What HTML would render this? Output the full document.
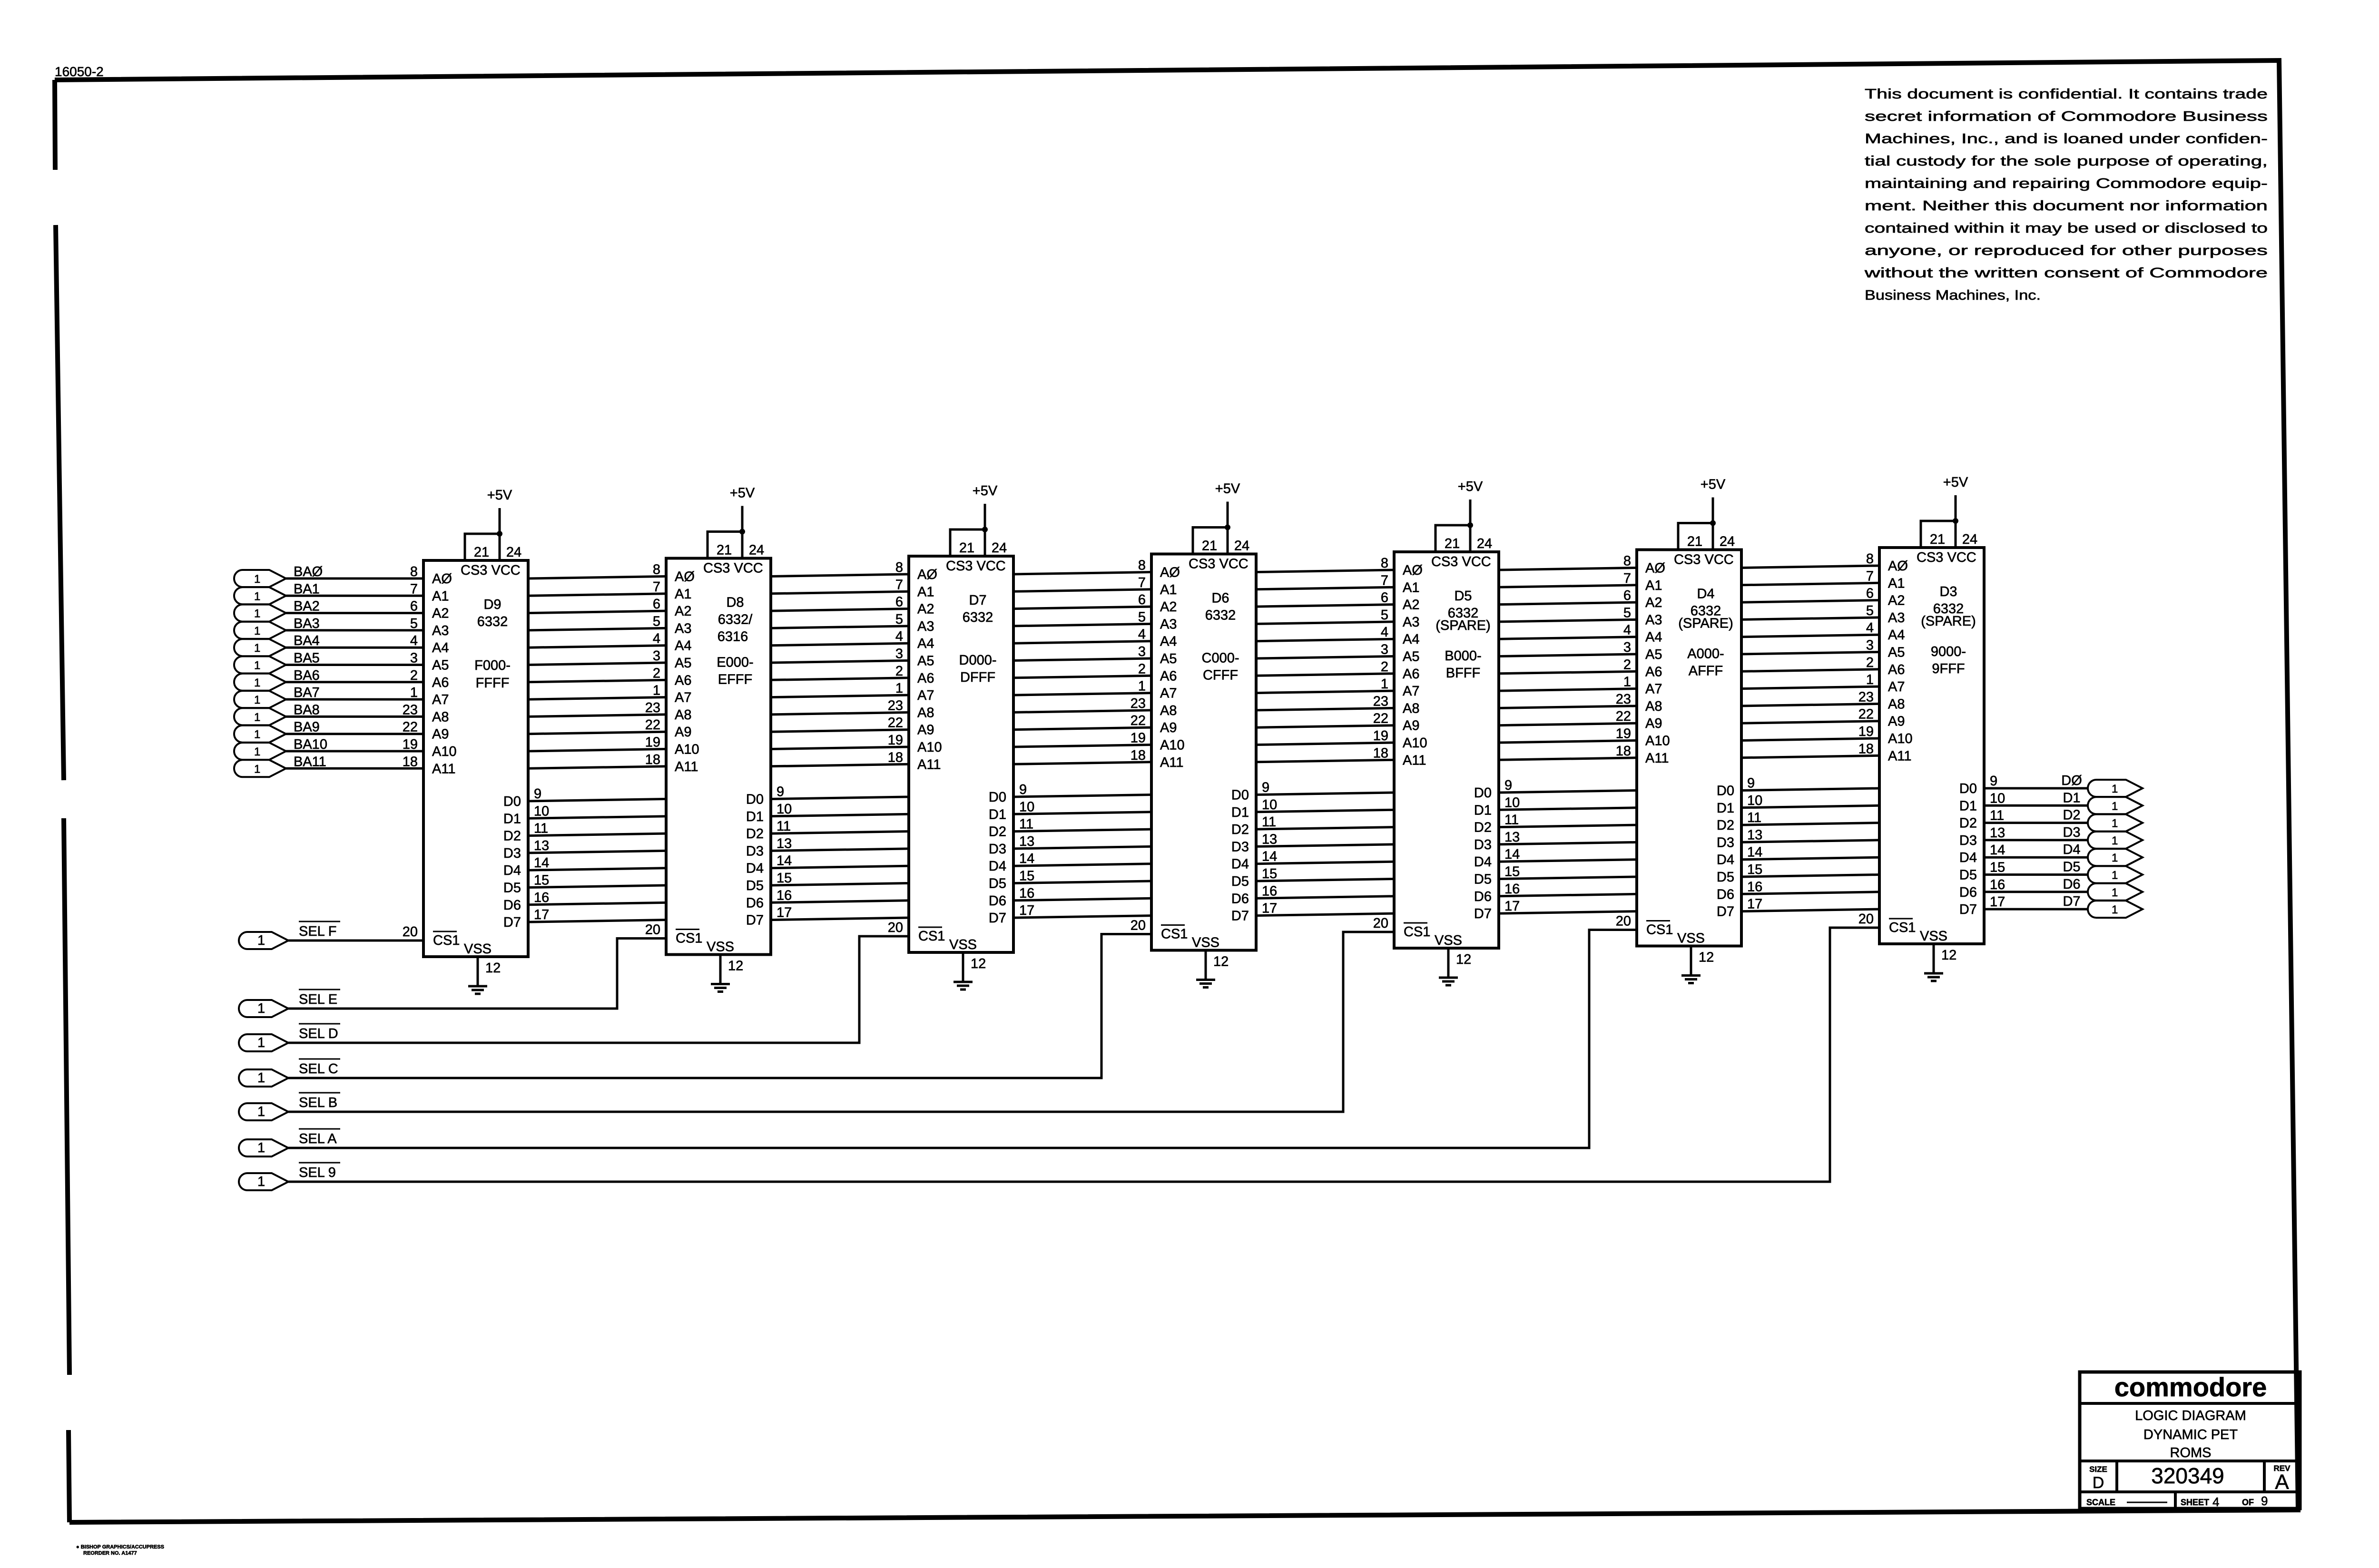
<!DOCTYPE html>
<html><head><meta charset="utf-8"><style>
html,body{margin:0;padding:0;background:#fff}
svg{display:block}
text{font-family:"Liberation Sans",sans-serif;font-size:29px;fill:#000;stroke:#000;stroke-width:0.7px}
.l{stroke:#000;stroke-width:5;fill:none}
.b{stroke:#000;stroke-width:6;fill:none}
.m{text-anchor:middle}
.e{text-anchor:end}
.c{stroke:#000;stroke-width:4;fill:#fff}
</style></head><body>
<svg width="5096" height="3296" viewBox="0 0 5096 3296" xmlns="http://www.w3.org/2000/svg">
<!-- border -->
<path d="M115 168 L4790 127 L4830 3174 L146 3200" style="stroke:#000;stroke-width:10;fill:none"/>
<path d="M115 168 L116 357 M117 473 L134 1640 M134 1720 L146 2890 M144 3006 L146 3200" style="stroke:#000;stroke-width:10;fill:none"/>
<text x="115" y="160" style="font-size:28px">16050-2</text>
<text x="160" y="3255" style="font-size:11px;font-weight:bold">● BISHOP GRAPHICS/ACCUPRESS</text>
<text x="175" y="3268" style="font-size:11px;font-weight:bold">REORDER NO. A1477</text>

<!-- confidential -->
<g style="font-size:46px">
<text x="3919" y="207" textLength="847" lengthAdjust="spacingAndGlyphs">This document is confidential. It contains trade</text>
<text x="3919" y="254" textLength="847" lengthAdjust="spacingAndGlyphs">secret information of Commodore Business</text>
<text x="3919" y="301" textLength="847" lengthAdjust="spacingAndGlyphs">Machines, Inc., and is loaned under confiden-</text>
<text x="3919" y="348" textLength="847" lengthAdjust="spacingAndGlyphs">tial custody for the sole purpose of operating,</text>
<text x="3919" y="395" textLength="847" lengthAdjust="spacingAndGlyphs">maintaining and repairing Commodore equip-</text>
<text x="3919" y="442" textLength="847" lengthAdjust="spacingAndGlyphs">ment. Neither this document nor information</text>
<text x="3919" y="489" textLength="847" lengthAdjust="spacingAndGlyphs">contained within it may be used or disclosed to</text>
<text x="3919" y="536" textLength="847" lengthAdjust="spacingAndGlyphs">anyone, or reproduced for other purposes</text>
<text x="3919" y="583" textLength="847" lengthAdjust="spacingAndGlyphs">without the written consent of Commodore</text>
<text x="3919" y="630" textLength="370" lengthAdjust="spacingAndGlyphs">Business Machines, Inc.</text>
</g>

<!-- title block -->
<rect x="4371" y="2884" width="463" height="287" class="b" style="stroke-width:7"/>
<path d="M4371 2950H4834M4371 3071H4834M4371 3136H4834M4449 3071V3136M4759 3071V3136M4572 3136V3171" class="b"/>
<text x="4604" y="2935" class="m" style="font-size:56px;font-weight:bold">commodore</text>
<g style="font-size:34px">
<text x="4604" y="2985" class="m">LOGIC DIAGRAM</text>
<text x="4604" y="3025" class="m">DYNAMIC PET</text>
<text x="4604" y="3063" class="m">ROMS</text>
</g>
<text x="4410" y="3094" class="m" style="font-size:17px;font-weight:bold">SIZE</text>
<text x="4410" y="3128" class="m" style="font-size:34px">D</text>
<text x="4598" y="3118" class="m" style="font-size:46px">320349</text>
<text x="4796" y="3092" class="m" style="font-size:17px;font-weight:bold">REV</text>
<text x="4796" y="3130" class="m" style="font-size:44px">A</text>
<text x="4385" y="3164" style="font-size:18px;font-weight:bold">SCALE</text>
<path d="M4470 3158H4555" class="l" style="stroke-width:3"/>
<text x="4583" y="3164" style="font-size:18px;font-weight:bold">SHEET</text>
<text x="4650" y="3166" style="font-size:26px">4</text>
<text x="4712" y="3164" style="font-size:18px;font-weight:bold">OF</text>
<text x="4752" y="3164" style="font-size:26px">9</text>

<!-- SEL lines -->
<path class="l" d="M606 1977H890 M606 2120H1297V1972.5H1400 M606 2192H1806V1968H1910 M606 2266H2315V1963.5H2420 M606 2337H2823V1959H2930 M606 2413H3340V1954.5H3440 M606 2484H3846V1950H3950"/>
<g>
<path class="c" d="M520 1959H571L606 1977L571 1995H520A18 18 0 0 1 520 1959Z"/>
<path class="c" d="M520 2102H571L606 2120L571 2138H520A18 18 0 0 1 520 2102Z"/>
<path class="c" d="M520 2174H571L606 2192L571 2210H520A18 18 0 0 1 520 2174Z"/>
<path class="c" d="M520 2248H571L606 2266L571 2284H520A18 18 0 0 1 520 2248Z"/>
<path class="c" d="M520 2319H571L606 2337L571 2355H520A18 18 0 0 1 520 2319Z"/>
<path class="c" d="M520 2395H571L606 2413L571 2431H520A18 18 0 0 1 520 2395Z"/>
<path class="c" d="M520 2466H571L606 2484L571 2502H520A18 18 0 0 1 520 2466Z"/>
<g style="font-size:24px"><text x="541" y="1986">1</text><text x="541" y="2129">1</text><text x="541" y="2201">1</text><text x="541" y="2275">1</text><text x="541" y="2346">1</text><text x="541" y="2422">1</text><text x="541" y="2493">1</text></g>
<text x="628" y="1967">SEL  F</text><text x="628" y="2110">SEL  E</text><text x="628" y="2182">SEL  D</text><text x="628" y="2256">SEL  C</text><text x="628" y="2327">SEL  B</text><text x="628" y="2403">SEL  A</text><text x="628" y="2474">SEL  9</text>
<path class="l" style="stroke-width:3" d="M628 1937H715M628 2080H715M628 2152H715M628 2226H715M628 2297H715M628 2373H715M628 2444H715"/>
</g>

<!-- ===== CHIP D9 ===== -->
<g transform="translate(890,1178)">
<path class="l" d="M-289 38H0M-289 74.3H0M-289 110.6H0M-289 146.9H0M-289 183.2H0M-289 219.5H0M-289 255.8H0M-289 292.1H0M-289 328.4H0M-289 364.7H0M-289 401H0M-289 437.3H0"/>
<g>
<path class="c" d="M-380 20H-324L-289 38L-324 56H-380A18 18 0 0 1 -380 20Z"/>
<path class="c" d="M-380 56.3H-324L-289 74.3L-324 92.3H-380A18 18 0 0 1 -380 56.3Z"/>
<path class="c" d="M-380 92.6H-324L-289 110.6L-324 128.6H-380A18 18 0 0 1 -380 92.6Z"/>
<path class="c" d="M-380 128.9H-324L-289 146.9L-324 164.9H-380A18 18 0 0 1 -380 128.9Z"/>
<path class="c" d="M-380 165.2H-324L-289 183.2L-324 201.2H-380A18 18 0 0 1 -380 165.2Z"/>
<path class="c" d="M-380 201.5H-324L-289 219.5L-324 237.5H-380A18 18 0 0 1 -380 201.5Z"/>
<path class="c" d="M-380 237.8H-324L-289 255.8L-324 273.8H-380A18 18 0 0 1 -380 237.8Z"/>
<path class="c" d="M-380 274.1H-324L-289 292.1L-324 310.1H-380A18 18 0 0 1 -380 274.1Z"/>
<path class="c" d="M-380 310.4H-324L-289 328.4L-324 346.4H-380A18 18 0 0 1 -380 310.4Z"/>
<path class="c" d="M-380 346.7H-324L-289 364.7L-324 382.7H-380A18 18 0 0 1 -380 346.7Z"/>
<path class="c" d="M-380 383H-324L-289 401L-324 419H-380A18 18 0 0 1 -380 383Z"/>
<path class="c" d="M-380 419.3H-324L-289 437.3L-324 455.3H-380A18 18 0 0 1 -380 419.3Z"/>
</g>
<text x="-356" y="47" style="font-size:24px"><tspan x="-356">1</tspan><tspan x="-356" dy="36.3">1</tspan><tspan x="-356" dy="36.3">1</tspan><tspan x="-356" dy="36.3">1</tspan><tspan x="-356" dy="36.3">1</tspan><tspan x="-356" dy="36.3">1</tspan><tspan x="-356" dy="36.3">1</tspan><tspan x="-356" dy="36.3">1</tspan><tspan x="-356" dy="36.3">1</tspan><tspan x="-356" dy="36.3">1</tspan><tspan x="-356" dy="36.3">1</tspan><tspan x="-356" dy="36.3">1</tspan></text>
<text x="-273" y="33"><tspan x="-273">BAØ</tspan><tspan x="-273" dy="36.3">BA1</tspan><tspan x="-273" dy="36.3">BA2</tspan><tspan x="-273" dy="36.3">BA3</tspan><tspan x="-273" dy="36.3">BA4</tspan><tspan x="-273" dy="36.3">BA5</tspan><tspan x="-273" dy="36.3">BA6</tspan><tspan x="-273" dy="36.3">BA7</tspan><tspan x="-273" dy="36.3">BA8</tspan><tspan x="-273" dy="36.3">BA9</tspan><tspan x="-273" dy="36.3">BA10</tspan><tspan x="-273" dy="36.3">BA11</tspan></text>
<rect x="0" y="0" width="220" height="833" class="b"/>
<path class="l" d="M87 0V-56H160M160 -110V0M114 833V895M94 895H134M101 903H127M108 911H120"/>
<circle cx="160" cy="-56" r="6"/>
<text x="160" y="-128" class="m">+5V</text>
<text x="122" y="-8" class="m">21</text><text x="190" y="-8" class="m">24</text>
<text x="78" y="30">CS3  VCC</text>
<text x="18" y="48"><tspan x="18">AØ</tspan><tspan x="18" dy="36.3">A1</tspan><tspan x="18" dy="36.3">A2</tspan><tspan x="18" dy="36.3">A3</tspan><tspan x="18" dy="36.3">A4</tspan><tspan x="18" dy="36.3">A5</tspan><tspan x="18" dy="36.3">A6</tspan><tspan x="18" dy="36.3">A7</tspan><tspan x="18" dy="36.3">A8</tspan><tspan x="18" dy="36.3">A9</tspan><tspan x="18" dy="36.3">A10</tspan><tspan x="18" dy="36.3">A11</tspan></text>
<text x="205" y="516" class="e"><tspan x="205">D0</tspan><tspan x="205" dy="36.3">D1</tspan><tspan x="205" dy="36.3">D2</tspan><tspan x="205" dy="36.3">D3</tspan><tspan x="205" dy="36.3">D4</tspan><tspan x="205" dy="36.3">D5</tspan><tspan x="205" dy="36.3">D6</tspan><tspan x="205" dy="36.3">D7</tspan></text>
<text x="-12" y="33" class="e"><tspan x="-12">8</tspan><tspan x="-12" dy="36.3">7</tspan><tspan x="-12" dy="36.3">6</tspan><tspan x="-12" dy="36.3">5</tspan><tspan x="-12" dy="36.3">4</tspan><tspan x="-12" dy="36.3">3</tspan><tspan x="-12" dy="36.3">2</tspan><tspan x="-12" dy="36.3">1</tspan><tspan x="-12" dy="36.3">23</tspan><tspan x="-12" dy="36.3">22</tspan><tspan x="-12" dy="36.3">19</tspan><tspan x="-12" dy="36.3">18</tspan></text>
<text x="232" y="500"><tspan x="232">9</tspan><tspan x="232" dy="36.3">10</tspan><tspan x="232" dy="36.3">11</tspan><tspan x="232" dy="36.3">13</tspan><tspan x="232" dy="36.3">14</tspan><tspan x="232" dy="36.3">15</tspan><tspan x="232" dy="36.3">16</tspan><tspan x="232" dy="36.3">17</tspan></text>
<text x="-12" y="790" class="e">20</text>
<text x="20" y="808">CS1</text><path class="l" style="stroke-width:3" d="M20 780H70"/>
<text x="85" y="826">VSS</text>
<text x="130" y="866">12</text>
<text x="145" y="102" class="m">D9</text><text x="145" y="138" class="m">6332</text>
<text x="145" y="230" class="m">F000-</text><text x="145" y="267" class="m">FFFF</text>
<path class="l" d="M220 38L510 33.5M220 74.3L510 69.8M220 110.6L510 106.1M220 146.9L510 142.4M220 183.2L510 178.7M220 219.5L510 215M220 255.8L510 251.3M220 292.1L510 287.6M220 328.4L510 323.9M220 364.7L510 360.2M220 401L510 396.5M220 437.3L510 432.8M220 506L510 501.5M220 542.3L510 537.8M220 578.6L510 574.1M220 614.9L510 610.4M220 651.2L510 646.7M220 687.5L510 683M220 723.8L510 719.3M220 760.1L510 755.6"/>
</g>

<!-- ===== CHIP D8 ===== -->
<g transform="translate(1400,1173.5)">
<rect x="0" y="0" width="220" height="833" class="b"/>
<path class="l" d="M87 0V-56H160M160 -110V0M114 833V895M94 895H134M101 903H127M108 911H120"/>
<circle cx="160" cy="-56" r="6"/>
<text x="160" y="-128" class="m">+5V</text>
<text x="122" y="-8" class="m">21</text><text x="190" y="-8" class="m">24</text>
<text x="78" y="30">CS3  VCC</text>
<text x="18" y="48"><tspan x="18">AØ</tspan><tspan x="18" dy="36.3">A1</tspan><tspan x="18" dy="36.3">A2</tspan><tspan x="18" dy="36.3">A3</tspan><tspan x="18" dy="36.3">A4</tspan><tspan x="18" dy="36.3">A5</tspan><tspan x="18" dy="36.3">A6</tspan><tspan x="18" dy="36.3">A7</tspan><tspan x="18" dy="36.3">A8</tspan><tspan x="18" dy="36.3">A9</tspan><tspan x="18" dy="36.3">A10</tspan><tspan x="18" dy="36.3">A11</tspan></text>
<text x="205" y="516" class="e"><tspan x="205">D0</tspan><tspan x="205" dy="36.3">D1</tspan><tspan x="205" dy="36.3">D2</tspan><tspan x="205" dy="36.3">D3</tspan><tspan x="205" dy="36.3">D4</tspan><tspan x="205" dy="36.3">D5</tspan><tspan x="205" dy="36.3">D6</tspan><tspan x="205" dy="36.3">D7</tspan></text>
<text x="-12" y="33" class="e"><tspan x="-12">8</tspan><tspan x="-12" dy="36.3">7</tspan><tspan x="-12" dy="36.3">6</tspan><tspan x="-12" dy="36.3">5</tspan><tspan x="-12" dy="36.3">4</tspan><tspan x="-12" dy="36.3">3</tspan><tspan x="-12" dy="36.3">2</tspan><tspan x="-12" dy="36.3">1</tspan><tspan x="-12" dy="36.3">23</tspan><tspan x="-12" dy="36.3">22</tspan><tspan x="-12" dy="36.3">19</tspan><tspan x="-12" dy="36.3">18</tspan></text>
<text x="232" y="500"><tspan x="232">9</tspan><tspan x="232" dy="36.3">10</tspan><tspan x="232" dy="36.3">11</tspan><tspan x="232" dy="36.3">13</tspan><tspan x="232" dy="36.3">14</tspan><tspan x="232" dy="36.3">15</tspan><tspan x="232" dy="36.3">16</tspan><tspan x="232" dy="36.3">17</tspan></text>
<text x="-12" y="790" class="e">20</text>
<text x="20" y="808">CS1</text><path class="l" style="stroke-width:3" d="M20 780H70"/>
<text x="85" y="826">VSS</text>
<text x="130" y="866">12</text>
<text x="145" y="102" class="m">D8</text><text x="145" y="138" class="m">6332/</text><text x="140" y="174" class="m">6316</text>
<text x="145" y="228" class="m">E000-</text><text x="145" y="264" class="m">EFFF</text>
<path class="l" d="M220 38L510 33.5M220 74.3L510 69.8M220 110.6L510 106.1M220 146.9L510 142.4M220 183.2L510 178.7M220 219.5L510 215M220 255.8L510 251.3M220 292.1L510 287.6M220 328.4L510 323.9M220 364.7L510 360.2M220 401L510 396.5M220 437.3L510 432.8M220 506L510 501.5M220 542.3L510 537.8M220 578.6L510 574.1M220 614.9L510 610.4M220 651.2L510 646.7M220 687.5L510 683M220 723.8L510 719.3M220 760.1L510 755.6"/>
</g>

<!-- ===== CHIP D7 ===== -->
<g transform="translate(1910,1169)">
<rect x="0" y="0" width="220" height="833" class="b"/>
<path class="l" d="M87 0V-56H160M160 -110V0M114 833V895M94 895H134M101 903H127M108 911H120"/>
<circle cx="160" cy="-56" r="6"/>
<text x="160" y="-128" class="m">+5V</text>
<text x="122" y="-8" class="m">21</text><text x="190" y="-8" class="m">24</text>
<text x="78" y="30">CS3  VCC</text>
<text x="18" y="48"><tspan x="18">AØ</tspan><tspan x="18" dy="36.3">A1</tspan><tspan x="18" dy="36.3">A2</tspan><tspan x="18" dy="36.3">A3</tspan><tspan x="18" dy="36.3">A4</tspan><tspan x="18" dy="36.3">A5</tspan><tspan x="18" dy="36.3">A6</tspan><tspan x="18" dy="36.3">A7</tspan><tspan x="18" dy="36.3">A8</tspan><tspan x="18" dy="36.3">A9</tspan><tspan x="18" dy="36.3">A10</tspan><tspan x="18" dy="36.3">A11</tspan></text>
<text x="205" y="516" class="e"><tspan x="205">D0</tspan><tspan x="205" dy="36.3">D1</tspan><tspan x="205" dy="36.3">D2</tspan><tspan x="205" dy="36.3">D3</tspan><tspan x="205" dy="36.3">D4</tspan><tspan x="205" dy="36.3">D5</tspan><tspan x="205" dy="36.3">D6</tspan><tspan x="205" dy="36.3">D7</tspan></text>
<text x="-12" y="33" class="e"><tspan x="-12">8</tspan><tspan x="-12" dy="36.3">7</tspan><tspan x="-12" dy="36.3">6</tspan><tspan x="-12" dy="36.3">5</tspan><tspan x="-12" dy="36.3">4</tspan><tspan x="-12" dy="36.3">3</tspan><tspan x="-12" dy="36.3">2</tspan><tspan x="-12" dy="36.3">1</tspan><tspan x="-12" dy="36.3">23</tspan><tspan x="-12" dy="36.3">22</tspan><tspan x="-12" dy="36.3">19</tspan><tspan x="-12" dy="36.3">18</tspan></text>
<text x="232" y="500"><tspan x="232">9</tspan><tspan x="232" dy="36.3">10</tspan><tspan x="232" dy="36.3">11</tspan><tspan x="232" dy="36.3">13</tspan><tspan x="232" dy="36.3">14</tspan><tspan x="232" dy="36.3">15</tspan><tspan x="232" dy="36.3">16</tspan><tspan x="232" dy="36.3">17</tspan></text>
<text x="-12" y="790" class="e">20</text>
<text x="20" y="808">CS1</text><path class="l" style="stroke-width:3" d="M20 780H70"/>
<text x="85" y="826">VSS</text>
<text x="130" y="866">12</text>
<text x="145" y="102" class="m">D7</text><text x="145" y="138" class="m">6332</text>
<text x="145" y="228" class="m">D000-</text><text x="145" y="264" class="m">DFFF</text>
<path class="l" d="M220 38L510 33.5M220 74.3L510 69.8M220 110.6L510 106.1M220 146.9L510 142.4M220 183.2L510 178.7M220 219.5L510 215M220 255.8L510 251.3M220 292.1L510 287.6M220 328.4L510 323.9M220 364.7L510 360.2M220 401L510 396.5M220 437.3L510 432.8M220 506L510 501.5M220 542.3L510 537.8M220 578.6L510 574.1M220 614.9L510 610.4M220 651.2L510 646.7M220 687.5L510 683M220 723.8L510 719.3M220 760.1L510 755.6"/>
</g>

<!-- ===== CHIP D6 ===== -->
<g transform="translate(2420,1164.5)">
<rect x="0" y="0" width="220" height="833" class="b"/>
<path class="l" d="M87 0V-56H160M160 -110V0M114 833V895M94 895H134M101 903H127M108 911H120"/>
<circle cx="160" cy="-56" r="6"/>
<text x="160" y="-128" class="m">+5V</text>
<text x="122" y="-8" class="m">21</text><text x="190" y="-8" class="m">24</text>
<text x="78" y="30">CS3  VCC</text>
<text x="18" y="48"><tspan x="18">AØ</tspan><tspan x="18" dy="36.3">A1</tspan><tspan x="18" dy="36.3">A2</tspan><tspan x="18" dy="36.3">A3</tspan><tspan x="18" dy="36.3">A4</tspan><tspan x="18" dy="36.3">A5</tspan><tspan x="18" dy="36.3">A6</tspan><tspan x="18" dy="36.3">A7</tspan><tspan x="18" dy="36.3">A8</tspan><tspan x="18" dy="36.3">A9</tspan><tspan x="18" dy="36.3">A10</tspan><tspan x="18" dy="36.3">A11</tspan></text>
<text x="205" y="516" class="e"><tspan x="205">D0</tspan><tspan x="205" dy="36.3">D1</tspan><tspan x="205" dy="36.3">D2</tspan><tspan x="205" dy="36.3">D3</tspan><tspan x="205" dy="36.3">D4</tspan><tspan x="205" dy="36.3">D5</tspan><tspan x="205" dy="36.3">D6</tspan><tspan x="205" dy="36.3">D7</tspan></text>
<text x="-12" y="33" class="e"><tspan x="-12">8</tspan><tspan x="-12" dy="36.3">7</tspan><tspan x="-12" dy="36.3">6</tspan><tspan x="-12" dy="36.3">5</tspan><tspan x="-12" dy="36.3">4</tspan><tspan x="-12" dy="36.3">3</tspan><tspan x="-12" dy="36.3">2</tspan><tspan x="-12" dy="36.3">1</tspan><tspan x="-12" dy="36.3">23</tspan><tspan x="-12" dy="36.3">22</tspan><tspan x="-12" dy="36.3">19</tspan><tspan x="-12" dy="36.3">18</tspan></text>
<text x="232" y="500"><tspan x="232">9</tspan><tspan x="232" dy="36.3">10</tspan><tspan x="232" dy="36.3">11</tspan><tspan x="232" dy="36.3">13</tspan><tspan x="232" dy="36.3">14</tspan><tspan x="232" dy="36.3">15</tspan><tspan x="232" dy="36.3">16</tspan><tspan x="232" dy="36.3">17</tspan></text>
<text x="-12" y="790" class="e">20</text>
<text x="20" y="808">CS1</text><path class="l" style="stroke-width:3" d="M20 780H70"/>
<text x="85" y="826">VSS</text>
<text x="130" y="866">12</text>
<text x="145" y="102" class="m">D6</text><text x="145" y="138" class="m">6332</text>
<text x="145" y="228" class="m">C000-</text><text x="145" y="264" class="m">CFFF</text>
<path class="l" d="M220 38L510 33.5M220 74.3L510 69.8M220 110.6L510 106.1M220 146.9L510 142.4M220 183.2L510 178.7M220 219.5L510 215M220 255.8L510 251.3M220 292.1L510 287.6M220 328.4L510 323.9M220 364.7L510 360.2M220 401L510 396.5M220 437.3L510 432.8M220 506L510 501.5M220 542.3L510 537.8M220 578.6L510 574.1M220 614.9L510 610.4M220 651.2L510 646.7M220 687.5L510 683M220 723.8L510 719.3M220 760.1L510 755.6"/>
</g>

<!-- ===== CHIP D5 ===== -->
<g transform="translate(2930,1160)">
<rect x="0" y="0" width="220" height="833" class="b"/>
<path class="l" d="M87 0V-56H160M160 -110V0M114 833V895M94 895H134M101 903H127M108 911H120"/>
<circle cx="160" cy="-56" r="6"/>
<text x="160" y="-128" class="m">+5V</text>
<text x="122" y="-8" class="m">21</text><text x="190" y="-8" class="m">24</text>
<text x="78" y="30">CS3  VCC</text>
<text x="18" y="48"><tspan x="18">AØ</tspan><tspan x="18" dy="36.3">A1</tspan><tspan x="18" dy="36.3">A2</tspan><tspan x="18" dy="36.3">A3</tspan><tspan x="18" dy="36.3">A4</tspan><tspan x="18" dy="36.3">A5</tspan><tspan x="18" dy="36.3">A6</tspan><tspan x="18" dy="36.3">A7</tspan><tspan x="18" dy="36.3">A8</tspan><tspan x="18" dy="36.3">A9</tspan><tspan x="18" dy="36.3">A10</tspan><tspan x="18" dy="36.3">A11</tspan></text>
<text x="205" y="516" class="e"><tspan x="205">D0</tspan><tspan x="205" dy="36.3">D1</tspan><tspan x="205" dy="36.3">D2</tspan><tspan x="205" dy="36.3">D3</tspan><tspan x="205" dy="36.3">D4</tspan><tspan x="205" dy="36.3">D5</tspan><tspan x="205" dy="36.3">D6</tspan><tspan x="205" dy="36.3">D7</tspan></text>
<text x="-12" y="33" class="e"><tspan x="-12">8</tspan><tspan x="-12" dy="36.3">7</tspan><tspan x="-12" dy="36.3">6</tspan><tspan x="-12" dy="36.3">5</tspan><tspan x="-12" dy="36.3">4</tspan><tspan x="-12" dy="36.3">3</tspan><tspan x="-12" dy="36.3">2</tspan><tspan x="-12" dy="36.3">1</tspan><tspan x="-12" dy="36.3">23</tspan><tspan x="-12" dy="36.3">22</tspan><tspan x="-12" dy="36.3">19</tspan><tspan x="-12" dy="36.3">18</tspan></text>
<text x="232" y="500"><tspan x="232">9</tspan><tspan x="232" dy="36.3">10</tspan><tspan x="232" dy="36.3">11</tspan><tspan x="232" dy="36.3">13</tspan><tspan x="232" dy="36.3">14</tspan><tspan x="232" dy="36.3">15</tspan><tspan x="232" dy="36.3">16</tspan><tspan x="232" dy="36.3">17</tspan></text>
<text x="-12" y="790" class="e">20</text>
<text x="20" y="808">CS1</text><path class="l" style="stroke-width:3" d="M20 780H70"/>
<text x="85" y="826">VSS</text>
<text x="130" y="866">12</text>
<text x="145" y="102" class="m">D5</text><text x="145" y="138" class="m">6332</text><text x="145" y="164" class="m">(SPARE)</text>
<text x="145" y="228" class="m">B000-</text><text x="145" y="264" class="m">BFFF</text>
<path class="l" d="M220 38L510 33.5M220 74.3L510 69.8M220 110.6L510 106.1M220 146.9L510 142.4M220 183.2L510 178.7M220 219.5L510 215M220 255.8L510 251.3M220 292.1L510 287.6M220 328.4L510 323.9M220 364.7L510 360.2M220 401L510 396.5M220 437.3L510 432.8M220 506L510 501.5M220 542.3L510 537.8M220 578.6L510 574.1M220 614.9L510 610.4M220 651.2L510 646.7M220 687.5L510 683M220 723.8L510 719.3M220 760.1L510 755.6"/>
</g>

<!-- ===== CHIP D4 ===== -->
<g transform="translate(3440,1155.5)">
<rect x="0" y="0" width="220" height="833" class="b"/>
<path class="l" d="M87 0V-56H160M160 -110V0M114 833V895M94 895H134M101 903H127M108 911H120"/>
<circle cx="160" cy="-56" r="6"/>
<text x="160" y="-128" class="m">+5V</text>
<text x="122" y="-8" class="m">21</text><text x="190" y="-8" class="m">24</text>
<text x="78" y="30">CS3  VCC</text>
<text x="18" y="48"><tspan x="18">AØ</tspan><tspan x="18" dy="36.3">A1</tspan><tspan x="18" dy="36.3">A2</tspan><tspan x="18" dy="36.3">A3</tspan><tspan x="18" dy="36.3">A4</tspan><tspan x="18" dy="36.3">A5</tspan><tspan x="18" dy="36.3">A6</tspan><tspan x="18" dy="36.3">A7</tspan><tspan x="18" dy="36.3">A8</tspan><tspan x="18" dy="36.3">A9</tspan><tspan x="18" dy="36.3">A10</tspan><tspan x="18" dy="36.3">A11</tspan></text>
<text x="205" y="516" class="e"><tspan x="205">D0</tspan><tspan x="205" dy="36.3">D1</tspan><tspan x="205" dy="36.3">D2</tspan><tspan x="205" dy="36.3">D3</tspan><tspan x="205" dy="36.3">D4</tspan><tspan x="205" dy="36.3">D5</tspan><tspan x="205" dy="36.3">D6</tspan><tspan x="205" dy="36.3">D7</tspan></text>
<text x="-12" y="33" class="e"><tspan x="-12">8</tspan><tspan x="-12" dy="36.3">7</tspan><tspan x="-12" dy="36.3">6</tspan><tspan x="-12" dy="36.3">5</tspan><tspan x="-12" dy="36.3">4</tspan><tspan x="-12" dy="36.3">3</tspan><tspan x="-12" dy="36.3">2</tspan><tspan x="-12" dy="36.3">1</tspan><tspan x="-12" dy="36.3">23</tspan><tspan x="-12" dy="36.3">22</tspan><tspan x="-12" dy="36.3">19</tspan><tspan x="-12" dy="36.3">18</tspan></text>
<text x="232" y="500"><tspan x="232">9</tspan><tspan x="232" dy="36.3">10</tspan><tspan x="232" dy="36.3">11</tspan><tspan x="232" dy="36.3">13</tspan><tspan x="232" dy="36.3">14</tspan><tspan x="232" dy="36.3">15</tspan><tspan x="232" dy="36.3">16</tspan><tspan x="232" dy="36.3">17</tspan></text>
<text x="-12" y="790" class="e">20</text>
<text x="20" y="808">CS1</text><path class="l" style="stroke-width:3" d="M20 780H70"/>
<text x="85" y="826">VSS</text>
<text x="130" y="866">12</text>
<text x="145" y="102" class="m">D4</text><text x="145" y="138" class="m">6332</text><text x="145" y="164" class="m">(SPARE)</text>
<text x="145" y="228" class="m">A000-</text><text x="145" y="264" class="m">AFFF</text>
<path class="l" d="M220 38L510 33.5M220 74.3L510 69.8M220 110.6L510 106.1M220 146.9L510 142.4M220 183.2L510 178.7M220 219.5L510 215M220 255.8L510 251.3M220 292.1L510 287.6M220 328.4L510 323.9M220 364.7L510 360.2M220 401L510 396.5M220 437.3L510 432.8M220 506L510 501.5M220 542.3L510 537.8M220 578.6L510 574.1M220 614.9L510 610.4M220 651.2L510 646.7M220 687.5L510 683M220 723.8L510 719.3M220 760.1L510 755.6"/>
</g>

<!-- ===== CHIP D3 ===== -->
<g transform="translate(3950,1151)">
<rect x="0" y="0" width="220" height="833" class="b"/>
<path class="l" d="M87 0V-56H160M160 -110V0M114 833V895M94 895H134M101 903H127M108 911H120"/>
<circle cx="160" cy="-56" r="6"/>
<text x="160" y="-128" class="m">+5V</text>
<text x="122" y="-8" class="m">21</text><text x="190" y="-8" class="m">24</text>
<text x="78" y="30">CS3  VCC</text>
<text x="18" y="48"><tspan x="18">AØ</tspan><tspan x="18" dy="36.3">A1</tspan><tspan x="18" dy="36.3">A2</tspan><tspan x="18" dy="36.3">A3</tspan><tspan x="18" dy="36.3">A4</tspan><tspan x="18" dy="36.3">A5</tspan><tspan x="18" dy="36.3">A6</tspan><tspan x="18" dy="36.3">A7</tspan><tspan x="18" dy="36.3">A8</tspan><tspan x="18" dy="36.3">A9</tspan><tspan x="18" dy="36.3">A10</tspan><tspan x="18" dy="36.3">A11</tspan></text>
<text x="205" y="516" class="e"><tspan x="205">D0</tspan><tspan x="205" dy="36.3">D1</tspan><tspan x="205" dy="36.3">D2</tspan><tspan x="205" dy="36.3">D3</tspan><tspan x="205" dy="36.3">D4</tspan><tspan x="205" dy="36.3">D5</tspan><tspan x="205" dy="36.3">D6</tspan><tspan x="205" dy="36.3">D7</tspan></text>
<text x="-12" y="33" class="e"><tspan x="-12">8</tspan><tspan x="-12" dy="36.3">7</tspan><tspan x="-12" dy="36.3">6</tspan><tspan x="-12" dy="36.3">5</tspan><tspan x="-12" dy="36.3">4</tspan><tspan x="-12" dy="36.3">3</tspan><tspan x="-12" dy="36.3">2</tspan><tspan x="-12" dy="36.3">1</tspan><tspan x="-12" dy="36.3">23</tspan><tspan x="-12" dy="36.3">22</tspan><tspan x="-12" dy="36.3">19</tspan><tspan x="-12" dy="36.3">18</tspan></text>
<text x="232" y="500"><tspan x="232">9</tspan><tspan x="232" dy="36.3">10</tspan><tspan x="232" dy="36.3">11</tspan><tspan x="232" dy="36.3">13</tspan><tspan x="232" dy="36.3">14</tspan><tspan x="232" dy="36.3">15</tspan><tspan x="232" dy="36.3">16</tspan><tspan x="232" dy="36.3">17</tspan></text>
<text x="-12" y="790" class="e">20</text>
<text x="20" y="808">CS1</text><path class="l" style="stroke-width:3" d="M20 780H70"/>
<text x="85" y="826">VSS</text>
<text x="130" y="866">12</text>
<text x="145" y="102" class="m">D3</text><text x="145" y="138" class="m">6332</text><text x="145" y="164" class="m">(SPARE)</text>
<text x="145" y="228" class="m">9000-</text><text x="145" y="264" class="m">9FFF</text>
<path class="l" d="M220 506H438M220 542.3H438M220 578.6H438M220 614.9H438M220 651.2H438M220 687.5H438M220 723.8H438M220 760.1H438"/>
<g>
<path class="c" d="M456 488H518L553 506L518 524H456A18 18 0 0 1 456 488Z"/>
<path class="c" d="M456 524.3H518L553 542.3L518 560.3H456A18 18 0 0 1 456 524.3Z"/>
<path class="c" d="M456 560.6H518L553 578.6L518 596.6H456A18 18 0 0 1 456 560.6Z"/>
<path class="c" d="M456 596.9H518L553 614.9L518 632.9H456A18 18 0 0 1 456 596.9Z"/>
<path class="c" d="M456 633.2H518L553 651.2L518 669.2H456A18 18 0 0 1 456 633.2Z"/>
<path class="c" d="M456 669.5H518L553 687.5L518 705.5H456A18 18 0 0 1 456 669.5Z"/>
<path class="c" d="M456 705.8H518L553 723.8L518 741.8H456A18 18 0 0 1 456 705.8Z"/>
<path class="c" d="M456 742.1H518L553 760.1L518 778.1H456A18 18 0 0 1 456 742.1Z"/>
</g>
<text x="488" y="515" style="font-size:24px"><tspan x="488">1</tspan><tspan x="488" dy="36.3">1</tspan><tspan x="488" dy="36.3">1</tspan><tspan x="488" dy="36.3">1</tspan><tspan x="488" dy="36.3">1</tspan><tspan x="488" dy="36.3">1</tspan><tspan x="488" dy="36.3">1</tspan><tspan x="488" dy="36.3">1</tspan></text>
<text x="404" y="499" class="m"><tspan x="404">DØ</tspan><tspan x="404" dy="36.3">D1</tspan><tspan x="404" dy="36.3">D2</tspan><tspan x="404" dy="36.3">D3</tspan><tspan x="404" dy="36.3">D4</tspan><tspan x="404" dy="36.3">D5</tspan><tspan x="404" dy="36.3">D6</tspan><tspan x="404" dy="36.3">D7</tspan></text>
</g>
</svg>
</body></html>
